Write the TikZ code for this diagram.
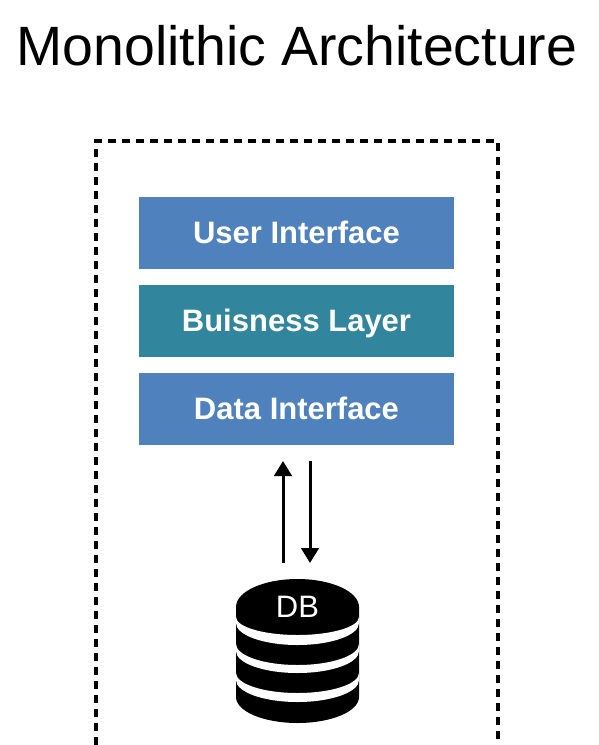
\documentclass[tikz,border=0pt]{standalone}
\usepackage{fontspec}
\setmainfont{Liberation Sans}
\usetikzlibrary{arrows.meta}
\definecolor{boxblue}{HTML}{4F81BD}
\definecolor{boxteal}{HTML}{31859C}
\tikzset{
  layerbox/.style={minimum width=315pt,minimum height=72pt,inner sep=0pt,text=white,text height=20pt,text depth=0pt,font=\fontsize{31}{34}\selectfont\bfseries},
  flow/.style={line width=3pt,-{Triangle[length=15pt,width=17.5pt]}},
  frame/.style={line width=3.2pt,dash pattern=on 8pt off 6pt},
  band/.style={fill=white,draw=none}
}
\newcommand{\dbband}[4]{%
  \fill[white] (236,#1) arc[start angle=180,end angle=0,x radius=61.5,y radius=#2]
    -- (359,#3) arc[start angle=0,end angle=180,x radius=61.5,y radius=#4] -- cycle;}
\begin{document}
\begin{tikzpicture}[x=1pt,y=-1pt]
\useasboundingbox (0,0) rectangle (598,745);
\node[font=\fontsize{55.4}{60}\selectfont] (title) at (297,46) {Monolithic Architecture};
\draw[frame] (96,745) -- (96,141) -- (498,141) -- (498,745);
\node[layerbox,fill=boxblue] (ui) at (296.5,233) {User Interface};
\node[layerbox,fill=boxteal] (biz) at (296.5,321) {Buisness Layer};
\node[layerbox,fill=boxblue] (data) at (296.5,409) {Data Interface};
\coordinate (dbtopa) at (283,563);
\coordinate (dataa) at (283,461);
\coordinate (datab) at (310,461);
\coordinate (dbtopb) at (310,563);
\draw[flow] (dbtopa) -- (dataa);
\draw[flow] (datab) -- (dbtopb);
\begin{scope}
\clip (236,607) arc[start angle=180,end angle=360,x radius=61.5,y radius=28]
  -- (359,697) arc[start angle=0,end angle=180,x radius=61.5,y radius=26] -- cycle;
\fill[black] (230,570) rectangle (365,730);
\dbband{617}{18}{623}{22}
\dbband{644}{21}{651}{22}
\dbband{673}{20}{680}{22}
\end{scope}
\node[text=white,font=\fontsize{31}{34}\selectfont] (db) at (297.5,606.5) {DB};
\end{tikzpicture}
\end{document}
